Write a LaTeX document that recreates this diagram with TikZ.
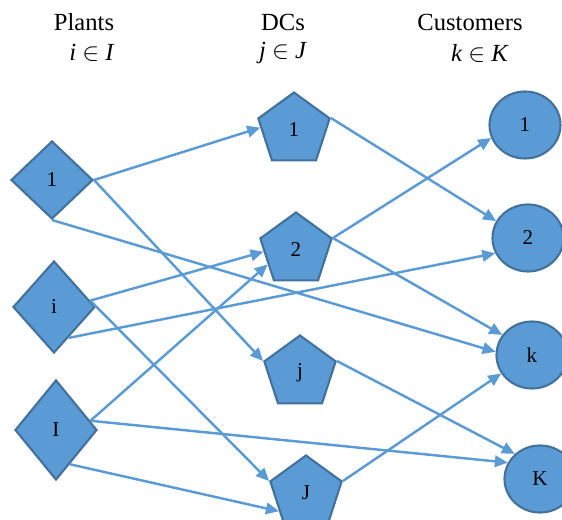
\documentclass[tikz,border=0pt]{standalone}
\usepackage{fontspec}
\setmainfont{Liberation Serif}
\usetikzlibrary{shapes}
\usetikzlibrary{arrows.meta}
\definecolor{nodeblue}{RGB}{91,155,213}
\definecolor{rimblue}{RGB}{65,113,156}

\begin{document}
\begin{tikzpicture}[x=0.02cm,y=-0.02cm,
						plant/.style={diamond,draw=rimblue,fill=nodeblue,line width=1.2pt,inner sep=0pt,minimum width=1.64cm,font=\fontsize{12}{14}\selectfont},
						dc/.style={regular polygon,regular polygon sides=5,draw=rimblue,fill=nodeblue,line width=1.2pt,inner sep=0pt,minimum size=1.5cm,font=\fontsize{12}{14}\selectfont},
						customer/.style={ellipse,draw=rimblue,fill=nodeblue,line width=1.2pt,inner sep=0pt,minimum width=1.42cm,minimum height=1.34cm,font=\fontsize{12}{14}\selectfont},
						head/.style={font=\fontsize{14}{16}\selectfont},
						flow/.style={draw=nodeblue,line width=1.4pt,-{Triangle[length=2.6mm,width=2.3mm]}}
						]
						\useasboundingbox (0,0) rectangle (562,520);
						\node[head] (hplant) at (84,22) {Plants};
						\node[head] (hdc) at (283,22) {DCs};
						\node[head] (hcust) at (470,22) {Customers};
						\node[head] (iplant) at (92,53) {\textit{i} $\in$ \textit{I}};
						\node[head] (idc) at (283,53) {\textit{j} $\in$ \textit{J}};
						\node[head] (icust) at (480,53) {\textit{k} $\in$ \textit{K}};
						\node[plant,minimum height=1.56cm] (plant1) at (52,180) {1};
						\node[plant,minimum height=1.84cm] (planti) at (54,307) {i};
						\node[plant,minimum height=2cm] (plantI) at (56,430) {I};
						\node[dc] (dc1) at (294,130) {1};
						\node[dc] (dc2) at (296,250) {2};
						\node[dc] (dcj) at (300,373) {j};
						\node[dc] (dcJ) at (306,493) {J};
						\node[customer] (cust1) at (525,125) {1};
						\node[customer] (cust2) at (528,238) {2};
						\node[customer] (custk) at (532,355) {k};
						\node[customer] (custK) at (540,479) {K};
						\draw[flow] (plant1.east) -- (dc1.176);
						\draw[flow] (plant1.east) -- (dcj.corner 2);
						\draw[flow] (plant1.south) -- (custk.175);
						\draw[flow] (planti.10) -- (dc2.183);
						\draw[flow] (planti.10) -- (dcJ.corner 2);
						\draw[flow] (planti.-65) -- (cust2.205);
						\draw[flow] (plantI.15) -- (dc2.207);
						\draw[flow] (plantI.15) -- (custK.153);
						\draw[flow] (plantI.-68) -- (dcJ.214);
						\draw[flow] (dc1.corner 5) -- (cust2.152);
						\draw[flow] (dc2.corner 5) -- (cust1.201);
						\draw[flow] (dc2.corner 5) -- (custk.146);
						\draw[flow] (dcj.corner 5) -- (custK.135);
						\draw[flow] (dcJ.corner 5) -- (custk.211);
						\end{tikzpicture}
\end{document}
